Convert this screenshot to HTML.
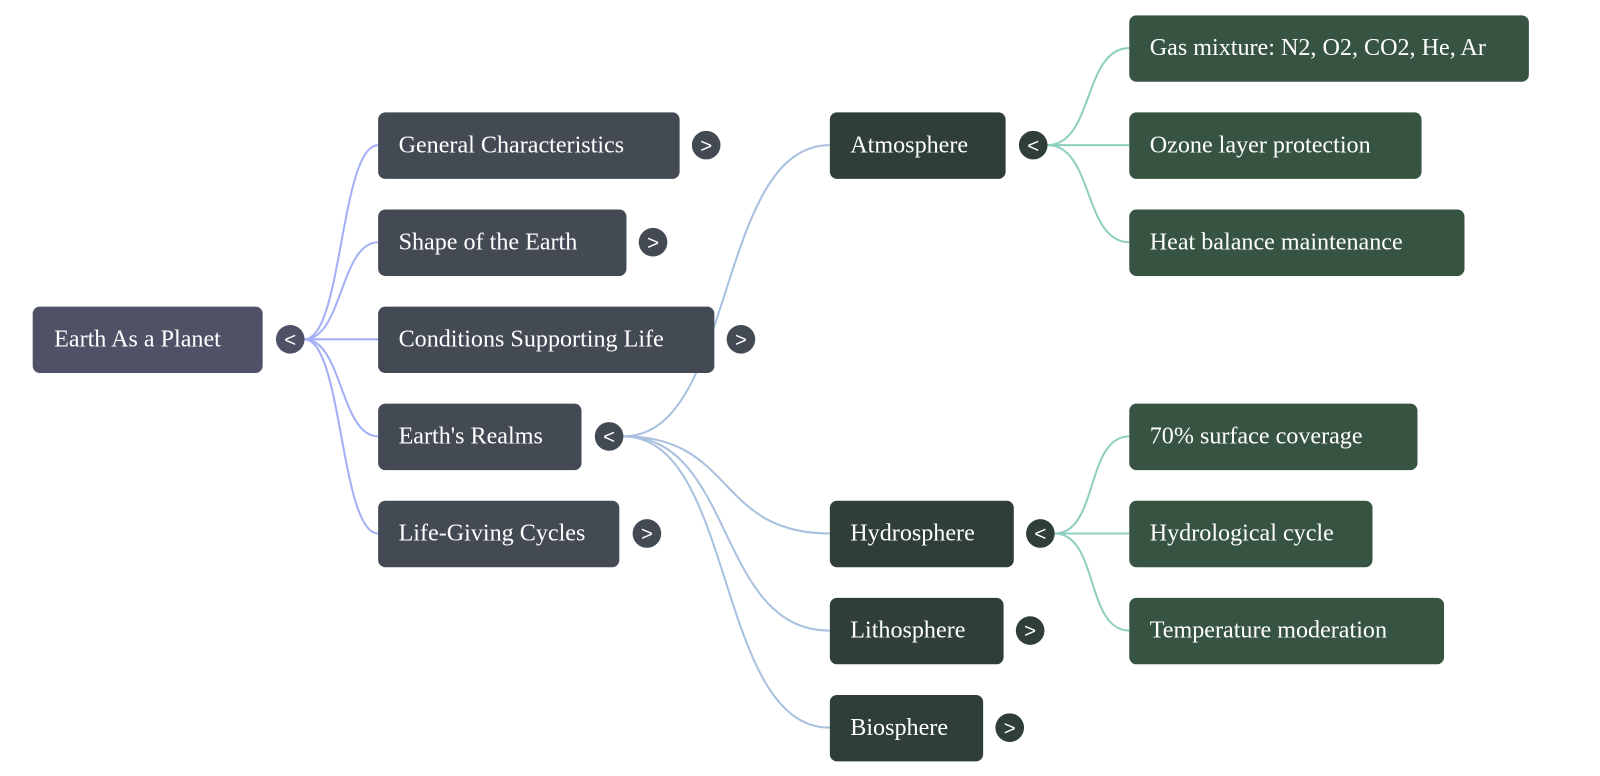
<!DOCTYPE html>
<html><head><meta charset="utf-8"><style>
html,body{margin:0;padding:0;background:#fff;width:1600px;height:776px;overflow:hidden}
text{font-family:"Liberation Serif",serif;font-size:23.6px;fill:#fff}
.t{font-family:"Liberation Sans",sans-serif;font-size:20px;fill:#fff;text-anchor:middle}
</style></head><body>
<svg width="1600" height="776" viewBox="0 0 1565.6 759.3" xmlns="http://www.w3.org/2000/svg">
<g fill="none" stroke-width="2">
<g stroke="#a3b0f5">
<path d="M298 332 C335 332,333 142,370 142"/>
<path d="M298 332 C335 332,333 237,370 237"/>
<path d="M298 332 L370 332"/>
<path d="M298 332 C335 332,333 427,370 427"/>
<path d="M298 332 C335 332,333 522,370 522"/>
</g>
<g stroke="#a9c1df">
<path d="M610 427 C720 427,700 142,812 142"/>
<path d="M610 427 C720 427,700 522,812 522"/>
<path d="M610 427 C720 427,700 617,812 617"/>
<path d="M610 427 C720 427,700 712,812 712"/>
</g>
<g stroke="#8fcfbf">
<path d="M1025 142 C1070 142,1060 47,1105 47"/>
<path d="M1025 142 L1105 142"/>
<path d="M1025 142 C1070 142,1060 237,1105 237"/>
<path d="M1032 522 C1075 522,1062 427,1105 427"/>
<path d="M1032 522 L1105 522"/>
<path d="M1032 522 C1075 522,1062 617,1105 617"/>
</g>
</g>
<g>
<rect x="32" y="300" width="225" height="65" rx="7" fill="#4f5166"/><text x="53" y="339">Earth As a Planet</text>
<circle cx="284" cy="332" r="14" fill="#4f5166"/><text class="t" x="284" y="339">&lt;</text>

<g fill="#434a54">
<rect x="370" y="110" width="295" height="65" rx="7"/>
<rect x="370" y="205" width="243" height="65" rx="7"/>
<rect x="370" y="300" width="329" height="65" rx="7"/>
<rect x="370" y="395" width="199" height="65" rx="7"/>
<rect x="370" y="490" width="236" height="65" rx="7"/>
<circle cx="691" cy="142" r="14"/><circle cx="639" cy="237" r="14"/><circle cx="725" cy="332" r="14"/><circle cx="596" cy="427" r="14"/><circle cx="633" cy="522" r="14"/>
</g>
<text x="390" y="149">General Characteristics</text>
<text x="390" y="244">Shape of the Earth</text>
<text x="390" y="339">Conditions Supporting Life</text>
<text x="390" y="434">Earth's Realms</text>
<text x="390" y="529">Life-Giving Cycles</text>
<text class="t" x="691" y="149">&gt;</text><text class="t" x="639" y="244">&gt;</text><text class="t" x="725" y="339">&gt;</text><text class="t" x="596" y="434">&lt;</text><text class="t" x="633" y="529">&gt;</text>

<g fill="#2f3e3a">
<rect x="812" y="110" width="172" height="65" rx="7"/>
<rect x="812" y="490" width="180" height="65" rx="7"/>
<rect x="812" y="585" width="170" height="65" rx="7"/>
<rect x="812" y="680" width="150" height="65" rx="7"/>
<circle cx="1011" cy="142" r="14"/><circle cx="1018" cy="522" r="14"/><circle cx="1008" cy="617" r="14"/><circle cx="988" cy="712" r="14"/>
</g>
<text x="832" y="149">Atmosphere</text>
<text x="832" y="529">Hydrosphere</text>
<text x="832" y="624">Lithosphere</text>
<text x="832" y="719">Biosphere</text>
<text class="t" x="1011" y="149">&lt;</text><text class="t" x="1018" y="529">&lt;</text><text class="t" x="1008" y="624">&gt;</text><text class="t" x="988" y="719">&gt;</text>

<g fill="#375342">
<rect x="1105" y="15" width="391" height="65" rx="7"/>
<rect x="1105" y="110" width="286" height="65" rx="7"/>
<rect x="1105" y="205" width="328" height="65" rx="7"/>
<rect x="1105" y="395" width="282" height="65" rx="7"/>
<rect x="1105" y="490" width="238" height="65" rx="7"/>
<rect x="1105" y="585" width="308" height="65" rx="7"/>
</g>
<text x="1125" y="54">Gas mixture: N2, O2, CO2, He, Ar</text>
<text x="1125" y="149">Ozone layer protection</text>
<text x="1125" y="244">Heat balance maintenance</text>
<text x="1125" y="434">70% surface coverage</text>
<text x="1125" y="529">Hydrological cycle</text>
<text x="1125" y="624">Temperature moderation</text>
</g>
</svg>
</body></html>
